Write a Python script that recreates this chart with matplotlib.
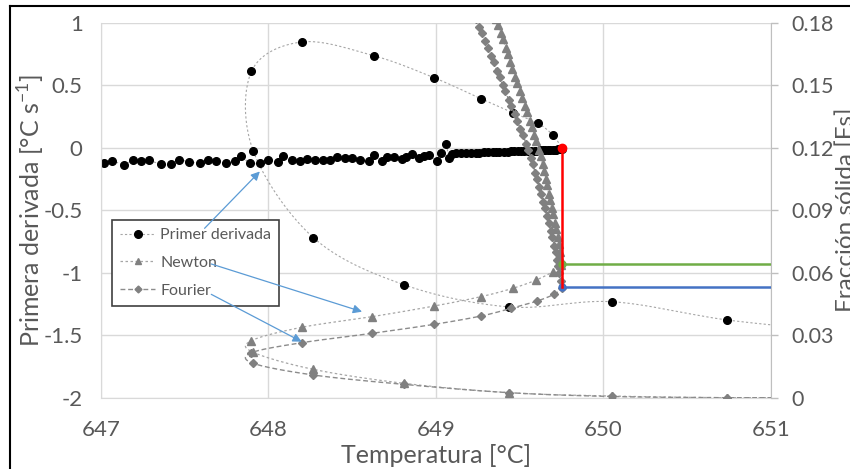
import numpy as np
import matplotlib
matplotlib.use('Agg')
import matplotlib.pyplot as plt
from matplotlib.lines import Line2D

plt.rcParams['font.family'] = ['Lato', 'DejaVu Sans']
plt.rcParams['axes.unicode_minus'] = False

# Primer derivada (time order: cooling, undercooling loop, then plateau)
deriv_temp = [651.42, 650.74, 650.05, 649.44, 648.81, 648.27, 647.91, 647.90, 648.20,
              648.63, 648.99, 649.27, 649.46, 649.61, 649.70, 649.755,
              649.74, 649.73, 649.72, 649.71, 649.70, 649.68, 649.67, 649.65, 649.64,
              649.62, 649.60, 649.59, 649.57, 649.55, 649.53, 649.51, 649.49, 649.47,
              649.45, 649.43, 649.41, 649.38, 649.36, 649.34, 649.31, 649.29, 649.26,
              649.24, 649.21, 649.18, 649.15, 649.12, 649.10, 649.08, 649.06, 649.03,
              649.01, 648.96, 648.93, 648.90, 648.86, 648.82, 648.80, 648.75, 648.71,
              648.68, 648.63, 648.60, 648.55, 648.50, 648.46, 648.41, 648.37, 648.33,
              648.28, 648.23, 648.19, 648.14, 648.09, 648.06, 648.00, 647.95, 647.89,
              647.84, 647.80, 647.75, 647.69, 647.64, 647.59, 647.53, 647.47, 647.42,
              647.36, 647.29, 647.24, 647.19, 647.14, 647.07, 647.02]
deriv_val = [-1.47, -1.378, -1.232, -1.274, -1.096, -0.72, -0.024, 0.611, 0.846,
             0.736, 0.56, 0.392, 0.28, 0.195, 0.10, -0.01,
             -0.012, -0.014, -0.015, -0.016, -0.017, -0.018, -0.019, -0.020, -0.021,
             -0.022, -0.023, -0.024, -0.024, -0.025, -0.026, -0.027, -0.028, -0.028,
             -0.030, -0.031, -0.032, -0.033, -0.034, -0.035, -0.036, -0.038, -0.040,
             -0.041, -0.042, -0.044, -0.045, -0.045, -0.050, -0.082, 0.027, -0.045,
             -0.106, -0.061, -0.069, -0.082, -0.050, -0.072, -0.088, -0.077, -0.077,
             -0.109, -0.061, -0.109, -0.096, -0.082, -0.082, -0.074, -0.101, -0.096,
             -0.096, -0.088, -0.106, -0.098, -0.069, -0.112, -0.096, -0.122, -0.125,
             -0.069, -0.106, -0.122, -0.106, -0.096, -0.122, -0.112, -0.101, -0.133,
             -0.133, -0.101, -0.106, -0.101, -0.136, -0.106, -0.125]

# Newton (fraccion solida)
newton_temp = [651.42, 650.74, 650.05, 649.44, 648.81, 648.27, 647.91, 647.90, 648.20,
               648.62, 648.99, 649.27, 649.46, 649.60, 649.70, 649.747,
               649.744, 649.740, 649.735, 649.728, 649.720, 649.712, 649.702, 649.692,
               649.682, 649.674, 649.665, 649.658, 649.648, 649.638, 649.626, 649.614,
               649.600, 649.588, 649.573, 649.561, 649.546, 649.533, 649.516, 649.503,
               649.487, 649.474, 649.458, 649.446, 649.430, 649.418, 649.401, 649.389,
               649.372, 649.360, 649.344]
newton_fs = [0.0, 0.0, 0.0008, 0.0024, 0.0069, 0.0136, 0.0218, 0.0274, 0.0338,
             0.0389, 0.044, 0.0485, 0.0525, 0.0565, 0.0605, 0.0635,
             0.067, 0.070, 0.074, 0.077, 0.081, 0.084, 0.088, 0.091,
             0.095, 0.098, 0.102, 0.105, 0.109, 0.112, 0.116, 0.119,
             0.123, 0.126, 0.130, 0.133, 0.137, 0.140, 0.144, 0.147,
             0.151, 0.154, 0.158, 0.161, 0.165, 0.168, 0.172, 0.175,
             0.179, 0.182, 0.186]

# Fourier (fraccion solida)
fourier_temp = [651.42, 650.74, 650.05, 649.44, 648.81, 648.27, 647.91, 647.90, 648.20,
                648.62, 648.99, 649.27, 649.45, 649.605, 649.705, 649.755,
                649.746, 649.738, 649.731, 649.724, 649.717, 649.708, 649.697, 649.688,
                649.676, 649.666, 649.652, 649.642, 649.629, 649.619, 649.605, 649.594,
                649.580, 649.568, 649.553, 649.540, 649.521, 649.506, 649.486, 649.471,
                649.451, 649.436, 649.416, 649.401, 649.381, 649.366, 649.346, 649.331,
                649.311, 649.296, 649.275, 649.259, 649.238, 649.222]
fourier_fs = [0.0, 0.0, 0.0006, 0.0024, 0.0064, 0.0109, 0.0165, 0.0216, 0.0264,
              0.0309, 0.0352, 0.0392, 0.0429, 0.0464, 0.0496, 0.0528,
              0.056, 0.060, 0.063, 0.066, 0.070, 0.073, 0.077, 0.080,
              0.084, 0.087, 0.091, 0.094, 0.098, 0.101, 0.105, 0.108,
              0.112, 0.115, 0.119, 0.122, 0.126, 0.129, 0.133, 0.136,
              0.140, 0.143, 0.147, 0.150, 0.154, 0.157, 0.161, 0.164,
              0.168, 0.171, 0.175, 0.178, 0.182, 0.185]

# marked points (liquidus temperature)
liq_temp = 649.755
liq_deriv = 0.0
fs_newton_liq = 0.064
fs_fourier_liq = 0.053
temp_max = 651.0

GREY_TXT = '#595959'
GRID = '#D9D9D9'


def smooth(x, y, n=14):
    # catmull-rom, close to excel "smoothed line"
    x = np.asarray(x, float)
    y = np.asarray(y, float)
    px = np.concatenate([[x[0]], x, [x[-1]]])
    py = np.concatenate([[y[0]], y, [y[-1]]])
    t = np.linspace(0, 1, n, endpoint=False)[:, None]
    xs, ys = [], []
    for i in range(len(x) - 1):
        p = np.array([[px[i + k], py[i + k]] for k in range(4)])
        seg = 0.5 * ((2 * p[1]) + (-p[0] + p[2]) * t
                     + (2 * p[0] - 5 * p[1] + 4 * p[2] - p[3]) * t ** 2
                     + (-p[0] + 3 * p[1] - 3 * p[2] + p[3]) * t ** 3)
        xs.append(seg[:, 0])
        ys.append(seg[:, 1])
    xs.append([x[-1]])
    ys.append([y[-1]])
    return np.concatenate(xs), np.concatenate(ys)


fig = plt.figure(figsize=(8.5, 4.69), dpi=100)
ax = fig.add_axes([0.1185, 0.152, 0.7882, 0.7996])
ax2 = ax.twinx()

dotted = (0, (2, 2))
dashed = (0, (3.5, 2))

sx, sy = smooth(deriv_temp, deriv_val)
ax.plot(sx, sy, color='#A6A6A6', lw=0.8, ls=dotted)
ax.plot(deriv_temp, deriv_val, 'o', color='black', ms=5.5, ls='none')

sx, sy = smooth(newton_temp, newton_fs)
ax2.plot(sx, sy, color='#A6A6A6', lw=0.9, ls=dotted)
ax2.plot(newton_temp, newton_fs, '^', color='#808080', ms=5.5, ls='none')

sx, sy = smooth(fourier_temp, fourier_fs)
ax2.plot(sx, sy, color='#8C8C8C', lw=1.0, ls=dashed)
ax2.plot(fourier_temp, fourier_fs, 'D', color='#808080', ms=4.2, ls='none')

# liquidus markers
fs_top = (liq_deriv + 2) / 3 * 0.18
ax2.plot([liq_temp, temp_max], [fs_newton_liq, fs_newton_liq], color='#70AD47', lw=1.8,
         marker='o', ms=5, markevery=[0], zorder=6)
ax2.plot([liq_temp, temp_max], [fs_fourier_liq, fs_fourier_liq], color='#4472C4', lw=1.8,
         marker='o', ms=5, markevery=[0], zorder=6)
ax2.plot([liq_temp, liq_temp], [fs_top, fs_fourier_liq], color='#FF0000', lw=1.8, zorder=7)
ax2.plot([liq_temp], [fs_top], 'o', color='#FF0000', ms=6, zorder=8)

ax.set_xlim(647, 651)
ax.set_ylim(-2, 1)
ax2.set_ylim(0, 0.18)
ax.set_xticks([647, 648, 649, 650, 651])
ax.set_yticks([1, 0.5, 0, -0.5, -1, -1.5, -2])
ax.set_yticklabels(['1', '0.5', '0', '-0.5', '-1', '-1.5', '-2'])
ax2.set_yticks([0, 0.03, 0.06, 0.09, 0.12, 0.15, 0.18])
ax2.set_yticklabels(['0', '0.03', '0.06', '0.09', '0.12', '0.15', '0.18'])

ax.grid(True, color=GRID, lw=1)
ax.set_axisbelow(True)
for s in ['top']:
    ax.spines[s].set_visible(False)
    ax2.spines[s].set_visible(False)
ax.spines['left'].set_color(GRID)
ax.spines['bottom'].set_color(GRID)
ax2.spines['left'].set_visible(False)
ax2.spines['bottom'].set_visible(False)
ax2.spines['right'].set_color('#BFBFBF')
ax.spines['right'].set_visible(False)

ax.tick_params(axis='both', length=0, labelsize=16, labelcolor=GREY_TXT)
ax.tick_params(axis='y', pad=13)
ax.tick_params(axis='x', pad=16)
ax2.tick_params(axis='y', length=5, width=1, color='#BFBFBF', labelsize=15.5,
                labelcolor=GREY_TXT, pad=10)

ax.set_xlabel('Temperatura [°C]', fontsize=18, color=GREY_TXT)
ax.set_ylabel(r'Primera derivada [°C s$^{\mathregular{-1}}$]', fontsize=18, color=GREY_TXT)
ax2.set_ylabel('Fracción sólida [Fs]', fontsize=17.5, color=GREY_TXT)
ax.xaxis.set_label_coords(0.5, -0.124)
ax.yaxis.set_label_coords(-0.08, 0.5)
ax2.yaxis.set_label_coords(1.097, 0.5)

handles = [
    Line2D([], [], color='#A6A6A6', lw=0.8, ls=dotted, marker='o', mfc='black', mec='black', ms=5.5),
    Line2D([], [], color='#A6A6A6', lw=0.9, ls=dotted, marker='^', mfc='#808080', mec='#808080', ms=4),
    Line2D([], [], color='#8C8C8C', lw=1.0, ls=dashed, marker='D', mfc='#808080', mec='#808080', ms=3.5),
]
leg = ax2.legend(handles, ['Primer derivada', 'Newton', 'Fourier'], loc='upper left',
                 bbox_to_anchor=(0.0173, 0.474), borderaxespad=0, fancybox=False,
                 fontsize=11.5, labelcolor=GREY_TXT, handlelength=2.2, handletextpad=0.3,
                 labelspacing=0.85, borderpad=0.5, framealpha=1)
leg.get_frame().set_edgecolor('#404040')
leg.get_frame().set_linewidth(1.2)
leg.set_zorder(9)

arrow = dict(arrowstyle='-|>', color='#5B9BD5', lw=0.9, mutation_scale=13, shrinkA=0, shrinkB=0)
for start, end in [((647.62, -0.645), (647.95, -0.19)),
                   ((647.66, -0.93), (648.56, -1.312)),
                   ((647.66, -1.173), (648.20, -1.552))]:
    ax2.annotate('', xy=end, xycoords=ax.transData, xytext=start, textcoords=ax.transData,
                 arrowprops=arrow, zorder=10, annotation_clip=False)

# outer frame of the original picture
fig.add_artist(Line2D([10 / 850, 10 / 850], [0, 1 - 6 / 469], color='black', lw=1.5,
                      transform=fig.transFigure))
fig.add_artist(Line2D([10 / 850, 1], [1 - 6 / 469, 1 - 6 / 469], color='black', lw=1.5,
                      transform=fig.transFigure))

fig.savefig('out.png', dpi=100)
